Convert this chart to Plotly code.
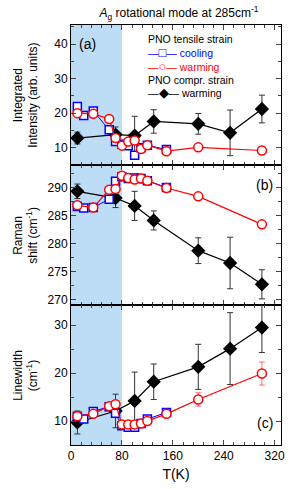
import plotly.graph_objects as go
from plotly.subplots import make_subplots

# ---------------- data ----------------
T_cool = [10, 20, 35, 60, 70, 80, 90, 100, 110, 120, 150]
T_warm = [10, 35, 60, 70, 80, 90, 100, 110, 120, 150, 200, 300]
T_comp = [10, 70, 100, 130, 200, 250, 300]

int_cool = [21.9, 19.3, 20.6, 15.2, 11.8, 11.0, 10.6, 7.8, 10.0, 10.7, 9.5]
int_warm = [20.0, 19.8, 18.3, 12.8, 10.6, 11.8, 12.1, 9.6, 10.7, 9.0, 10.1, 9.2]
int_comp = [12.8, 13.8, 13.5, 17.6, 16.9, 14.3, 21.2]
int_comp_err = [1.7, 2.2, 5.6, 3.4, 3.0, 6.6, 4.0]

shift_cool = [286.6, 286.3, 286.4, 287.9, 291.1, 291.9, 291.6, 291.7, 291.6, 291.2, 290.0]
shift_warm = [286.8, 286.4, 289.6, 289.7, 292.1, 291.7, 291.4, 291.6, 291.2, 289.9, 288.4, 283.4]
shift_comp = [289.3, 288.1, 286.7, 284.1, 278.7, 276.5, 272.7]
shift_comp_err = [1.3, 1.7, 2.6, 1.7, 2.3, 4.6, 2.6]

width_cool = [11.0, 10.4, 12.0, 13.0, 11.6, 9.0, 8.7, 8.7, 9.5, 10.4, 11.8]
width_warm = [11.0, 11.5, 13.1, 13.5, 9.3, 9.3, 9.3, 9.5, 10.0, 11.5, 14.5, 19.9]
width_warm_err = [0.6, 0.5, 0.5, 0.6, 0.4, 0.4, 0.4, 0.4, 0.5, 0.8, 1.4, 2.4]
width_comp = [9.7, 12.1, 14.2, 18.2, 21.3, 25.1, 29.5]
width_comp_err = [2.4, 3.5, 6.0, 3.7, 4.7, 7.5, 5.2]

x_ticks = [0, 80, 160, 240, 320]
shade_range = [0, 80]

FONT = "Liberation Sans, Arial, Helvetica, sans-serif"

fig = make_subplots(rows=3, cols=1, shared_xaxes=True, vertical_spacing=0)

panels = [
    (int_cool, int_warm, None, int_comp, int_comp_err),
    (shift_cool, shift_warm, None, shift_comp, shift_comp_err),
    (width_cool, width_warm, width_warm_err, width_comp, width_comp_err),
]

for i, (yc, yw, ywe, yk, yke) in enumerate(panels, start=1):
    fig.add_trace(go.Scatter(
        x=T_comp, y=yk, mode="lines+markers",
        line=dict(color="black", width=1.2),
        marker=dict(symbol="diamond", size=11, color="black"),
        error_y=dict(type="data", array=yke, color="#333333", thickness=1, width=3),
        showlegend=False), row=i, col=1)
    fig.add_trace(go.Scatter(
        x=T_cool, y=yc, mode="lines+markers",
        line=dict(color="#0000ff", width=1),
        marker=dict(symbol="square", size=8, color="white",
                    line=dict(color="#0000ff", width=1.5)),
        showlegend=False), row=i, col=1)
    ew = None
    if ywe is not None:
        ew = dict(type="data", array=ywe, color="rgba(255,0,0,0.55)", thickness=1, width=3)
    fig.add_trace(go.Scatter(
        x=T_warm, y=yw, mode="lines+markers",
        line=dict(color="#ff0000", width=1.2),
        marker=dict(symbol="circle", size=9, color="white",
                    line=dict(color="#ff0000", width=1.5)),
        error_y=ew,
        showlegend=False), row=i, col=1)

common_x = dict(range=[0, 330], tickvals=x_ticks, ticks="inside", ticklen=5,
                showline=True, linecolor="black", linewidth=1, mirror="ticks",
                minor=dict(ticks="inside", ticklen=3, dtick=16, tick0=0),
                showgrid=False, zeroline=False, tickfont=dict(size=12, family=FONT))
for i in range(1, 4):
    fig.update_xaxes(common_x, row=i, col=1)
fig.update_xaxes(title=dict(text="T(K)", font=dict(size=14, family=FONT), standoff=6), row=3, col=1)

common_y = dict(ticks="inside", ticklen=5, showline=True, linecolor="black", linewidth=1,
                mirror="ticks", showgrid=False, zeroline=False,
                tickfont=dict(size=12, family=FONT))
fig.update_yaxes(common_y, range=[5, 45.5], tick0=10, dtick=10,
                 minor=dict(ticks="inside", ticklen=3, dtick=5), row=1, col=1)
fig.update_yaxes(common_y, range=[269, 294], tick0=270, dtick=5,
                 minor=dict(ticks="inside", ticklen=3, dtick=2.5), row=2, col=1)
fig.update_yaxes(common_y, range=[5, 34.2], tick0=10, dtick=10,
                 minor=dict(ticks="inside", ticklen=3, dtick=5), row=3, col=1)

# shaded low-temperature region
for ax in ["", "2", "3"]:
    fig.add_shape(type="rect", xref="x" + ax, yref="y" + ax + " domain",
                  x0=shade_range[0], x1=shade_range[1], y0=0, y1=1,
                  fillcolor="#bddcf6", line=dict(width=0), layer="below")

ann = []
# y-axis titles
ytitles = ["Integrated<br>Intensity (arb. units)",
           "Raman<br>shift (cm<sup>-1</sup>)",
           "Linewidth<br>(cm<sup>-1</sup>)"]
for ax, t in zip(["y", "y2", "y3"], ytitles):
    ann.append(dict(text=t, xref="paper", yref=ax + " domain", x=-0.215, y=0.5,
                    xanchor="center", yanchor="middle", textangle=-90, showarrow=False,
                    font=dict(size=12, family=FONT, color="black")))
# panel labels
ann.append(dict(text="(a)", xref="x domain", yref="y domain", x=0.03, y=0.865,
                xanchor="left", yanchor="middle", showarrow=False,
                font=dict(size=14, family=FONT, color="black")))
ann.append(dict(text="(b)", xref="x2 domain", yref="y2 domain", x=0.97, y=0.86,
                xanchor="right", yanchor="middle", showarrow=False,
                font=dict(size=14, family=FONT, color="black")))
ann.append(dict(text="(c)", xref="x3 domain", yref="y3 domain", x=0.97, y=0.16,
                xanchor="right", yanchor="middle", showarrow=False,
                font=dict(size=14, family=FONT, color="black")))
# legend (text-based)
SYM = "<span style='font-size:13px'>%s</span>"
leg_rows = [
    ("PNO tensile strain", "black", 39),
    ("—" + SYM % "□" + "— cooling", "#0000ff", 53),
    ("—" + SYM % "○" + "— warming", "#ff0000", 66.5),
    ("PNO compr. strain", "black", 80),
    ("—" + SYM % "◆" + "— warming", "black", 93),
]
for txt, col, ypx in leg_rows:
    ann.append(dict(text=txt, xref="paper", yref="paper",
                    x=(147 - 71) / 214, y=(445 - ypx) / 420,
                    xanchor="left", yanchor="middle", showarrow=False,
                    font=dict(size=10.5, family=FONT, color=col)))

fig.update_layout(
    width=291, height=489,
    margin=dict(l=71, r=6, t=25, b=44),
    paper_bgcolor="white", plot_bgcolor="white",
    font=dict(family=FONT, color="black"),
    title=dict(text="<i>A</i><sub>g</sub> rotational mode at 285cm<sup>-1</sup>",
               x=0.514, xref="paper", y=1 - 13 / 489, yanchor="middle", xanchor="center",
               font=dict(size=12, family=FONT, color="black")),
    annotations=ann,
    showlegend=False,
)

fig.write_html("out.html", config={"displayModeBar": False},
               post_script="document.body.style.margin='0px';document.body.style.overflow='hidden';")
